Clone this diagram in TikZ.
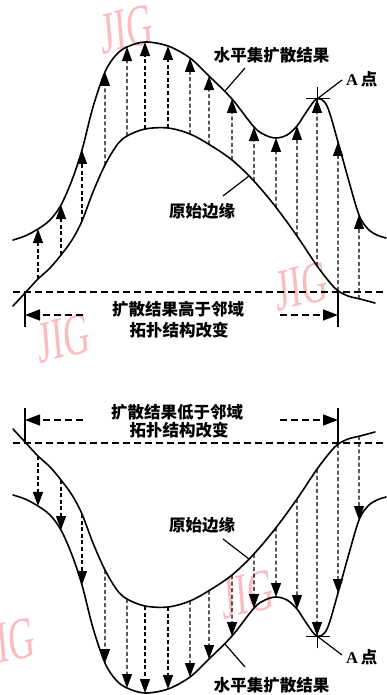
\documentclass[tikz,border=0pt]{standalone}
\usepackage{fontspec}
\setmainfont{Liberation Serif}
\newfontfamily\cjk{Noto Sans CJK SC}
\usetikzlibrary{arrows.meta,intersections}
\definecolor{wm}{RGB}{250,188,192}
\tikzset{
  curve/.style={line width=1.6pt, line join=round, line cap=round},
  varrow/.style={line width=1.2pt, dash pattern=on 4pt off 2.6pt, -{Triangle[length=14pt,width=10pt]}},
  hline/.style={line width=1.4pt, dash pattern=on 7pt off 4pt},
  brk/.style={line width=1.4pt},
  brkarrow/.style={line width=1.4pt, dash pattern=on 7pt off 4pt, -{Triangle[length=15pt,width=11pt]}},
  leader/.style={line width=1.2pt},
  crossmark/.style={line width=1pt},
  lbl/.style={font=\cjk\bfseries\fontsize{16.5}{19}\selectfont, inner sep=0pt},
  albl/.style={inner sep=0pt, anchor=west, font=\bfseries\fontsize{16.5}{19}\selectfont},
  wmark/.style={text=wm, font=\fontsize{36}{36}\selectfont, inner sep=0pt, yscale=1.65, rotate=8},
}
\newcommand\drawpanel[1]{%
  \draw[curve, name path=outer#1] plot[smooth, tension=0.55] coordinates {(13,240) (25,236) (38,229) (50,220) (61,205) (72,180) (82,150) (93,107) (105,72) (116,55) (127,47) (145,42) (168,46) (190,58) (209,76) (232,99) (254,127) (265,135) (276,138) (287,135) (297,126) (307,111) (317,99) (327,106) (338,142) (348,178) (359,215) (368,229) (377,235) (386,238)};
  \draw[curve, name path=inner#1] plot[smooth, tension=0.55] coordinates {(13,306) (25,293) (38,279) (50,268) (61,255) (72,240) (82,221) (93,192) (105,165) (117,145) (127,136) (145,129) (168,128) (190,134) (210,145) (232,160) (253,180) (275,206) (297,236) (315,263) (327,279) (337,290) (348,296) (360,299) (375,303)};
  \foreach \x [count=\k] in {38,61,82,105,127,145,168,190,209,232,254,276,297,317,338,359} {
    \path[name path=vl] (\x,0) -- (\x,330);
    \path[name intersections={of=outer#1 and vl, by={o#1\k}}];
    \path[name intersections={of=inner#1 and vl, by={i#1\k}}];
    \draw[varrow] (i#1\k) -- (o#1\k);
  }
  \coordinate (hl#1) at (13,292);
  \coordinate (hr#1) at (386,292);
  \draw[hline] (hl#1) -- (hr#1);
  \coordinate (bla#1) at (25,292); \coordinate (blb#1) at (25,327);
  \coordinate (bra#1) at (338,292); \coordinate (brb#1) at (338,327);
  \draw[brk] (bla#1) -- (blb#1);
  \draw[brk] (bra#1) -- (brb#1);
  \coordinate (ls#1) at (83,315); \coordinate (le#1) at (25,315);
  \coordinate (rs#1) at (280,315); \coordinate (re#1) at (338,315);
  \draw[brkarrow] (ls#1) -- (le#1);
  \draw[brkarrow] (rs#1) -- (re#1);
  \coordinate (lo1#1) at (225,91); \coordinate (lo2#1) at (245,68);
  \draw[leader] (lo1#1) -- (lo2#1);
  \coordinate (li1#1) at (223,196); \coordinate (li2#1) at (249,176);
  \coordinate (la1#1) at (317,99); \coordinate (la2#1) at (342,80);
  \draw[leader] (li1#1) -- (li2#1);
  \draw[leader] (la1#1) -- (la2#1);
  \coordinate (cu#1) at (317,87); \coordinate (cd#1) at (317,111);
  \coordinate (cl#1) at (306,99); \coordinate (cr#1) at (330,99);
  \draw[crossmark] (cu#1) -- (cd#1);
  \draw[crossmark] (cl#1) -- (cr#1);
}
\begin{document}
\begin{tikzpicture}[x=1pt,y=-1pt]
\fill[white] (0,0) rectangle (386,695);
\useasboundingbox (0,0) rectangle (386,695);
% watermarks
\node[wmark] (w1) at (127,29) {JIG};
\node[wmark] (w2) at (302,286) {JIG};
\node[wmark] (w3) at (64,338) {JIG};
\node[wmark] (w4) at (248,594) {JIG};
\node[wmark] (w5) at (9,642) {JIG};
% top panel
\drawpanel{T}
% bottom panel (mirror)
\begin{scope}[y=1pt, yshift=-735pt]
\drawpanel{B}
\end{scope}
% labels top
\node[lbl] (t1) at (271.5,55) {水平集扩散结果};
\node[albl] (t2) at (346,79) {A\,{\cjk 点}};
\node[lbl] (t3) at (202,211) {原始边缘};
\node[lbl] (t4) at (178,309) {扩散结果高于邻域};
\node[lbl] (t5) at (179,330) {拓扑结构改变};
% labels bottom
\node[lbl] (b4) at (177,412) {扩散结果低于邻域};
\node[lbl] (b5) at (179,430) {拓扑结构改变};
\node[lbl] (b3) at (202,525) {原始边缘};
\node[lbl] (b1) at (271.5,685) {水平集扩散结果};
\node[albl] (b2) at (346,657) {A\,{\cjk 点}};
\end{tikzpicture}
\end{document}
